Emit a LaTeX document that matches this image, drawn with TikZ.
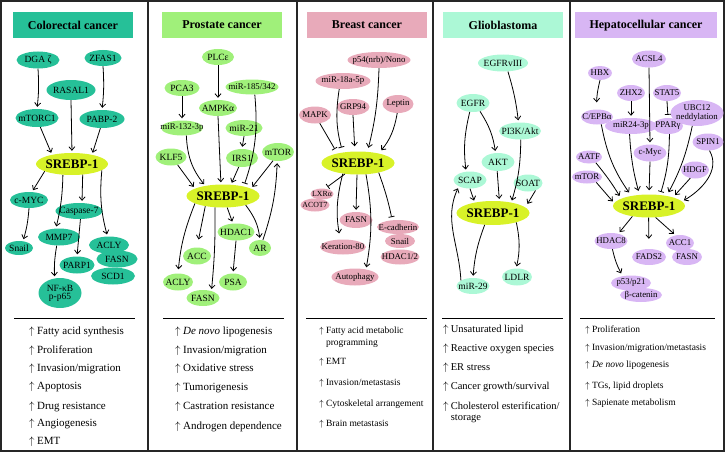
\documentclass[tikz,border=0pt]{standalone}
\usepackage{fontspec}
\setmainfont{Liberation Serif}
\usepackage{xcolor}
\usepackage{tikz}
\usetikzlibrary{shapes.geometric, positioning}
\usetikzlibrary{arrows.meta, calc}

\definecolor{crcc}{RGB}{38,192,152}
\definecolor{prcc}{RGB}{160,240,122}
\definecolor{brcc}{RGB}{232,170,186}
\definecolor{glbc}{RGB}{172,248,214}
\definecolor{hccc}{RGB}{216,182,244}
\definecolor{srebpc}{RGB}{216,242,40}

\newcommand\genefont{\fontsize{9.5}{10}\selectfont}
\newcommand\genesmall{\fontsize{8.8}{9.5}\selectfont}
\newcommand\upi{\makebox[0.72em][l]{$\uparrow$}}

\tikzset{
    gene/.style={ellipse, inner xsep=-10pt, inner ysep=-3pt, font=\genefont,
        minimum width=34, minimum height=17},
    crc/.style={gene, fill=crcc},
    prc/.style={gene, fill=prcc},
    brc/.style={gene, fill=brcc, font=\genesmall},
    glb/.style={gene, fill=glbc},
    hcc/.style={gene, fill=hccc, font=\genesmall},
    srebp/.style={ellipse, inner xsep=-10pt, inner ysep=-3pt, fill=srebpc,
        font=\fontsize{13}{14}\selectfont\bfseries, minimum width=73, minimum height=23},
    paneltitle/.style={font=\fontsize{12}{13}\selectfont\bfseries, minimum height=26},
    arr/.style={-{Straight Barb[length=3.5pt,width=6pt]}, line width=0.8pt, shorten >=2pt},
    inh/.style={-{Bar[width=6pt]}, line width=0.8pt, shorten >=3pt},
    outbig/.style={anchor=west, inner sep=0pt, font=\fontsize{11}{12}\selectfont},
    outmid/.style={anchor=west, inner sep=0pt, font=\fontsize{10.5}{11}\selectfont},
    outsmall/.style={anchor=west, inner sep=0pt, font=\fontsize{9.5}{10}\selectfont},
    sepline/.style={line width=0.9pt}
}

\begin{document}
\begin{tikzpicture}[x=1pt, y=-1pt]
    \useasboundingbox (0,0) rectangle (725,452);

    % frame and panels
    \draw[line width=1.3pt, black!85] (1,1) rectangle (724,451);
    \draw[line width=1.1pt, black!85] (148,1) -- (148,451);
    \draw[line width=1.1pt, black!85] (297,1) -- (297,451);
    \draw[line width=1.1pt, black!85] (433,1) -- (433,451);
    \draw[line width=1.1pt, black!85] (570,1) -- (570,451);

    \node[paneltitle, fill=crcc, minimum width=120] (crctitle) at (73,25) {Colorectal cancer};
    \node[paneltitle, fill=prcc, minimum width=120] (prctitle) at (222,25) {Prostate cancer};
    \node[paneltitle, fill=brcc, minimum width=120] (brctitle) at (367,25) {Breast cancer};
    \node[paneltitle, fill=glbc, minimum width=120] (glbtitle) at (503,25) {Glioblastoma};
    \node[paneltitle, fill=hccc, minimum width=142] (hcctitle) at (646,25.5) {Hepatocellular cancer};

    %% Colorectal cancer
    \node[crc, minimum width=43] (dgaz) at (38,60) {DGA ζ};
    \node[crc, minimum width=37, minimum height=16] (zfas) at (103,58) {ZFAS1};
    \node[crc, minimum width=49, minimum height=20] (rasal) at (71,90) {RASAL1};
    \node[crc, minimum width=43, minimum height=18] (mtorc) at (37,118) {mTORC1};
    \node[crc, minimum width=45, minimum height=18] (pabp) at (102,119) {PABP-2};
    \node[srebp, minimum width=72, minimum height=22] (srebpA) at (72,164) {SREBP-1};
    \node[crc, minimum width=38, minimum height=16] (cmyc) at (29,200) {c-MYC};
    \node[crc, minimum width=47, minimum height=16] (casp) at (79,211) {Caspase-7};
    \node[crc, minimum width=42] (mmp) at (59,237) {MMP7};
    \node[crc, minimum width=28, minimum height=14] (snail) at (19,248) {Snail};
    \node[crc, minimum width=35] (parp) at (77,265) {PARP1};
    \node[crc, minimum width=40] (acly) at (109,245) {ACLY};
    \node[crc, minimum width=41] (fasn) at (117,259) {FASN};
    \node[crc, minimum width=44] (scd) at (113,276) {SCD1};
    \node[crc, minimum width=43, minimum height=30, align=center] (nfkb) at (60,293) {NF-κB\\[-2pt]p-p65};

    \draw[arr] (dgaz.south) to[bend left=5] (mtorc.north);
    \draw[arr] (zfas.south) to[bend left=5] (pabp.north);
    \draw[arr] (rasal.south) -- (srebpA.north);
    \draw[arr] (mtorc.-70) -- (srebpA.155);
    \draw[arr] (pabp.-100) -- (srebpA.25);
    \draw[arr] (srebpA.-165) -- (cmyc.70);
    \draw[arr] (srebpA.-130) to[bend left=6] (mmp.110);
    \draw[arr] (srebpA.-45) -- (casp.70);
    \draw[arr] (srebpA.-12) to[bend right=10] (acly.100);
    \draw[arr] (cmyc.south) to[bend left=6] (snail.60);
    \draw[arr] (mmp.-105) to[bend right=6] (nfkb.110);
    \draw[arr] (casp.-80) -- (parp.north);

    \draw[sepline] (14,318) -- (135,318);
    \foreach \y/\t in {332/Fatty acid synthesis, 351/Proliferation, 369/Invasion\slash migration,
        387/Apoptosis, 407/Drug resistance, 424/Angiogenesis, 442/EMT}
        \node[outbig] (crcout\y) at (29,\y) {\upi\t};

    %% Prostate cancer
    \node[prc, minimum width=32, minimum height=16] (plce) at (218,57) {PLCε};
    \node[prc, minimum width=35, minimum height=16] (pca) at (182,88) {PCA3};
    \node[prc, minimum width=53, minimum height=15, font=\genesmall] (mirB) at (252,87) {miR-185/342};
    \node[prc, minimum width=38, minimum height=16] (ampk) at (218,108) {AMPKα};
    \node[prc, minimum width=42, minimum height=15, font=\genesmall] (mirC) at (182,128) {miR-132-3p};
    \node[prc, minimum width=37, minimum height=16] (mirD) at (244,128) {miR-21};
    \node[prc, minimum width=31] (klf) at (171,157) {KLF5};
    \node[prc, minimum width=32, minimum height=18] (irs) at (242,158) {IRS1};
    \node[prc, minimum width=32, minimum height=18] (mtorB) at (278,152) {mTOR};
    \node[srebp] (srebpB) at (223,196) {SREBP-1};
    \node[prc, minimum width=37] (hdac) at (236,232) {HDAC1};
    \node[prc, minimum width=22, minimum height=16] (ar) at (260,248) {AR};
    \node[prc, minimum width=28] (acc) at (197,256) {ACC};
    \node[prc, minimum width=30] (aclyB) at (178,282) {ACLY};
    \node[prc, minimum width=28] (psa) at (233,282) {PSA};
    \node[prc, minimum width=33, minimum height=16] (fasnB) at (203,298) {FASN};

    \draw[arr] (plce.south) -- (ampk.north);
    \draw[arr] (pca.south) -- (mirC.north);
    \draw[arr] (mirD.south) -- (irs.north);
    \draw[arr] (ampk.south) -- (srebpB.100);
    \draw[arr] (mirC.-60) to[bend right=18] (srebpB.150);
    \draw[arr] (klf.-50) -- (srebpB.165);
    \draw[arr] (irs.-110) -- (srebpB.55);
    \draw[inh] (mirB.-70) to[bend left=12] (srebpB.25);
    \draw[arr] (mtorB.-120) -- (srebpB.15);
    \draw[arr] (srebpB.-22) to[bend left=15] (ar.north);
    \draw[arr] (ar.70) to[bend right=8] (mtorB.-95);
    \draw[arr] (srebpB.-70) -- (hdac.110);
    \draw[arr, shorten >=8pt] (srebpB.-150) -- (acc.north);
    \draw[arr, shorten >=4pt] (srebpB.-165) to[bend right=8] (aclyB.north);
    \draw[arr] (srebpB.-125) to[bend left=3] (fasnB.40);
    \draw[arr] (hdac.south) -- (psa.north);

    \draw[sepline] (163,318) -- (284,318);
    \foreach \y/\t in {332/\textit{De novo} lipogenesis, 351/Invasion\slash migration,
        369/Oxidative stress, 388/Tumorigenesis, 407/Castration resistance, 427/Androgen dependence}
        \node[outbig] (prcout\y) at (175,\y) {\upi\t};

    %% Breast cancer
    \node[brc, minimum width=63, minimum height=16] (pnono) at (379,60) {p54(nrb)/Nono};
    \node[brc, minimum width=55, minimum height=16] (mirE) at (343,81) {miR-18a-5p};
    \node[brc, minimum width=33, minimum height=16] (grp) at (353,107) {GRP94};
    \node[brc, minimum width=31, minimum height=18] (leptin) at (398,104) {Leptin};
    \node[brc, minimum width=32] (mapk) at (315,115) {MAPK};
    \node[srebp] (srebpC) at (358,163) {SREBP-1};
    \node[brc, minimum width=23, minimum height=11, font=\fontsize{7.8}{8}\selectfont] (lxr) at (322,194) {LXRα};
    \node[brc, minimum width=29, minimum height=13, font=\fontsize{7.8}{8}\selectfont] (acot) at (315,205) {ACOT7};
    \node[brc, minimum width=33, minimum height=16] (fasnC) at (356,220) {FASN};
    \node[brc, minimum width=46, minimum height=15] (ker) at (343,247) {Keration-80};
    \node[brc, minimum width=42, minimum height=14] (ecad) at (398,227) {E-cadherin};
    \node[brc, minimum width=30, minimum height=14] (snailC) at (400,241) {Snail};
    \node[brc, minimum width=39, minimum height=15] (hdacC) at (400,257) {HDAC1/2};
    \node[brc, minimum width=47] (autoph) at (355,277) {Autophagy};

    \draw[inh, shorten >=5pt] (mapk.-60) -- (srebpC.155);
    \draw[inh, shorten >=5pt] (mirE.-115) to[bend right=12] (srebpC.145);
    \draw[arr, shorten >=5pt] (grp.south) -- (srebpC.105);
    \draw[arr, shorten >=4pt] (pnono.south) to[bend left=6] (srebpC.50);
    \draw[arr, shorten >=4pt] (leptin.-95) to[bend left=15] (srebpC.25);
    \draw[inh] (srebpC.-140) -- (lxr.60);
    \draw[arr, shorten >=6pt] (srebpC.-145) to[bend right=12] (ker.110);
    \draw[arr] (srebpC.-95) -- (fasnC.north);
    \draw[arr] (srebpC.-55) to[bend left=10] (autoph.35);
    \draw[inh] (srebpC.-25) to[bend left=4] (ecad.130);

    \draw[sepline] (306,318) -- (427,318);
    \foreach \y/\t in {331/{\upi Fatty acid metabolic}, 343/{\hspace*{0.72em}programming},
        362/{\upi EMT}, 383/{\upi Invasion\slash metastasis}, 404/{\upi Cytoskeletal arrangement},
        424/{\upi Brain metastasis}}
        \node[outsmall] (brcout\y) at (319,\y) {\t};

    %% Glioblastoma
    \node[glb, minimum width=50] (egfrv) at (503,63) {EGFRvIII};
    \node[glb, minimum width=33, minimum height=18] (egfr) at (473,103) {EGFR};
    \node[glb, minimum width=42] (pik) at (520,131) {PI3K/Akt};
    \node[glb, minimum width=33, minimum height=18] (akt) at (498,162) {AKT};
    \node[glb, minimum width=33] (scap) at (470,180) {SCAP};
    \node[glb, minimum width=29] (soat) at (528,183) {SOAT};
    \node[srebp, minimum height=24] (srebpD) at (493,213) {SREBP-1};
    \node[glb, minimum width=30] (ldlr) at (517,277) {LDLR};
    \node[glb, minimum width=33, minimum height=16] (mirF) at (473,286) {miR-29};

    \draw[arr] (egfrv.-60) to[bend left=5] (pik.100);
    \draw[arr] (egfr.-110) to[bend right=10] (scap.115);
    \draw[arr] (egfr.-50) to[bend left=12] (akt.105);
    \draw[arr] (akt.-95) -- (srebpD.62);
    \draw[arr] (scap.south) -- (srebpD.150);
    \draw[arr] (pik.-85) to[bend left=8] (srebpD.30);
    \draw[arr, shorten >=4pt] (soat.-45) -- (srebpD.10);
    \draw[arr] (srebpD.-125) to[bend right=8] (mirF.north);
    \draw[arr] (srebpD.-22) to[bend left=12] (ldlr.95);
    \draw[arr] (mirF.155) to[out=93, in=-115] (scap.-150);

    \draw[sepline] (442,318) -- (563,318);
    \foreach \y/\t in {330/{\upi Unsaturated lipid}, 349/{\upi Reactive oxygen species},
        368/{\upi ER stress}, 387/{\upi Cancer growth\slash survival},
        407/{\upi Cholesterol esterification\slash}, 419/{\hspace*{0.72em}storage}}
        \node[outmid] (glbout\y) at (443,\y) {\t};

    %% Hepatocellular cancer
    \node[hcc, minimum width=34] (acsl) at (649,59) {ACSL4};
    \node[hcc, minimum width=24, minimum height=14] (hbx) at (600,73) {HBX};
    \node[hcc, minimum width=28, minimum height=16] (zhx) at (631,93) {ZHX2};
    \node[hcc, minimum width=28, minimum height=16] (stat) at (667,93) {STAT5};
    \node[hcc, minimum width=53, minimum height=26, align=center] (ubc) at (697,113) {UBC12\\[-1pt]neddylation};
    \node[hcc, minimum width=32, minimum height=15] (cebp) at (597,117) {C/EPBα};
    \node[hcc, minimum width=52, minimum height=16] (mirG) at (631,126) {miR24-3p};
    \node[hcc, minimum width=30, minimum height=16] (ppar) at (668,126) {PPARγ};
    \node[hcc, minimum width=31] (spin) at (708,142) {SPIN1};
    \node[hcc, minimum width=33] (cmycE) at (650,153) {c-Myc};
    \node[hcc, minimum width=26, minimum height=13] (aatf) at (589,157) {AATF};
    \node[hcc, minimum width=30, minimum height=13] (mtorE) at (587,177) {mTOR};
    \node[hcc, minimum width=28] (hdgf) at (695,170) {HDGF};
    \node[srebp, minimum width=72] (srebpE) at (649,206) {SREBP-1};
    \node[hcc, minimum width=33, minimum height=16] (hdac8) at (611,241) {HDAC8};
    \node[hcc, minimum width=34, minimum height=16] (fads) at (649,257) {FADS2};
    \node[hcc, minimum width=28, minimum height=16] (acc1) at (680,243) {ACC1};
    \node[hcc, minimum width=30, minimum height=16] (fasnE) at (687,257) {FASN};
    \node[hcc, minimum width=40, minimum height=15] (p53) at (631,283) {p53/p21};
    \node[hcc, minimum width=42, minimum height=14] (bcat) at (641,295) {β-catenin};

    \draw[arr, shorten >=7pt] (hbx.south) to[bend right=8] (cebp.north);
    \draw[arr] (zhx.south) -- (mirG.north);
    \draw[inh] (stat.south) -- (ppar.north);
    \draw[arr] (acsl.south) -- (cmycE.north);
    \draw[arr, shorten >=4pt] (cebp.-60) to[bend right=12] (srebpE.150);
    \draw[arr, shorten >=4pt] (mirG.-100) to[bend right=6] (srebpE.130);
    \draw[arr, shorten >=4pt] (cmycE.south) -- (srebpE.north);
    \draw[inh] (ppar.-80) to[bend left=8] (srebpE.45);
    \draw[arr, shorten >=4pt] (ubc.-110) to[bend left=8] (srebpE.30);
    \draw[arr, shorten >=3pt] (hdgf.-120) -- (srebpE.20);
    \draw[arr] (spin.-80) to[out=-60, in=30] (srebpE.8);
    \draw[arr, shorten >=3pt] (aatf.-40) to[bend left=4] (srebpE.165);
    \draw[arr] (mtorE.-30) -- (srebpE.175);
    \draw[arr] (srebpE.-148) -- (hdac8.45);
    \draw[arr, shorten >=10pt] (srebpE.-92) -- (fads.north);
    \draw[arr] (srebpE.-60) -- (acc1.120);
    \draw[arr, shorten >=3pt] (hdac8.-80) to[bend right=8] (p53.140);

    \draw[sepline] (580,318) -- (715,318);
    \foreach \y/\t in {330/Proliferation, 348/Invasion\slash migration\slash metastasis,
        365/\textit{De novo} lipogenesis, 386/{TGs, lipid droplets}, 403/Sapienate metabolism}
        \node[outsmall] (hccout\y) at (585,\y) {\upi\t};
\end{tikzpicture}
\end{document}
